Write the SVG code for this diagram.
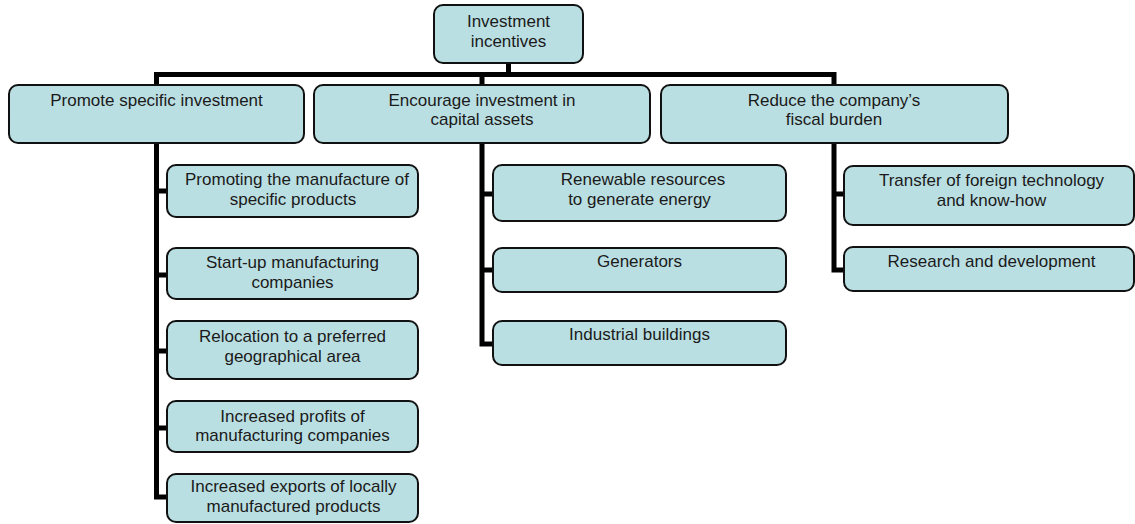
<svg xmlns="http://www.w3.org/2000/svg" width="1135" height="524" viewBox="0 0 1135 524">
<style>
.box{fill:#badfe2;stroke:#111;stroke-width:2}
.t{font-family:"Liberation Sans",Arial,sans-serif;font-size:17px;fill:#1a1a1a;text-anchor:middle}
.c{fill:none;stroke:#000;stroke-width:5;stroke-linejoin:miter}
</style>
<rect width="1135" height="524" fill="#fff"/>
<g id="connectors">
<path class="c" d="M508.5,63 V74.5 M154,74.5 H836.5 M156.5,74.5 V86 M482,74.5 V86 M834,74.5 V86"/>
<path class="c" d="M156.5,142 V499.5 M154,191 H168 M154,275 H168 M154,351 H168 M154,428 H168 M154,497 H168"/>
<path class="c" d="M482,142 V346.5 M479.5,194 H494 M479.5,270 H494 M479.5,344 H494"/>
<path class="c" d="M834,142 V272.5 M831.5,194 H845 M831.5,270 H845"/>
</g>
<g id="n0"><rect class="box" x="434" y="5" width="149" height="58" rx="9"/><text class="t" x="508.5" y="27">Investment</text><text class="t" x="508.5" y="46.5">incentives</text></g>
<g id="n1"><rect class="box" x="9" y="85" width="295" height="58" rx="9"/><text class="t" x="156.5" y="106">Promote specific investment</text></g>
<g id="n2"><rect class="box" x="314" y="85" width="336" height="58" rx="9"/><text class="t" x="482" y="105.5">Encourage investment in</text><text class="t" x="482" y="125">capital assets</text></g>
<g id="n3"><rect class="box" x="661" y="85" width="347" height="58" rx="9"/><text class="t" x="834" y="105.5">Reduce the company’s</text><text class="t" x="834" y="125">fiscal burden</text></g>
<g id="n4"><rect class="box" x="167" y="165" width="251" height="52" rx="9"/><text class="t" x="297" y="185">Promoting the manufacture of</text><text class="t" x="293" y="204.5">specific products</text></g>
<g id="n5"><rect class="box" x="167" y="248" width="251" height="51" rx="9"/><text class="t" x="292.5" y="268">Start-up manufacturing</text><text class="t" x="292.5" y="287.5">companies</text></g>
<g id="n6"><rect class="box" x="167" y="321" width="251" height="58" rx="9"/><text class="t" x="292.5" y="341.5">Relocation to a preferred</text><text class="t" x="292.5" y="361.5">geographical area</text></g>
<g id="n7"><rect class="box" x="167" y="401" width="251" height="51" rx="9"/><text class="t" x="292.5" y="421.5">Increased profits of</text><text class="t" x="292.5" y="440.5">manufacturing companies</text></g>
<g id="n8"><rect class="box" x="167" y="474" width="251" height="48" rx="9"/><text class="t" x="293.5" y="491.5">Increased exports of locally</text><text class="t" x="293.5" y="511.5">manufactured products</text></g>
<g id="n9"><rect class="box" x="493" y="165" width="293" height="56" rx="9"/><text class="t" x="643" y="185">Renewable resources</text><text class="t" x="639.5" y="205">to generate energy</text></g>
<g id="n10"><rect class="box" x="493" y="248" width="293" height="44" rx="9"/><text class="t" x="639.5" y="267">Generators</text></g>
<g id="n11"><rect class="box" x="493" y="321" width="293" height="44" rx="9"/><text class="t" x="639.5" y="340">Industrial buildings</text></g>
<g id="n12"><rect class="box" x="844" y="166" width="290" height="59" rx="9"/><text class="t" x="991.5" y="186">Transfer of foreign technology</text><text class="t" x="991.5" y="206">and know-how</text></g>
<g id="n13"><rect class="box" x="844" y="247" width="290" height="44" rx="9"/><text class="t" x="991.5" y="266.5">Research and development</text></g>
</svg>
